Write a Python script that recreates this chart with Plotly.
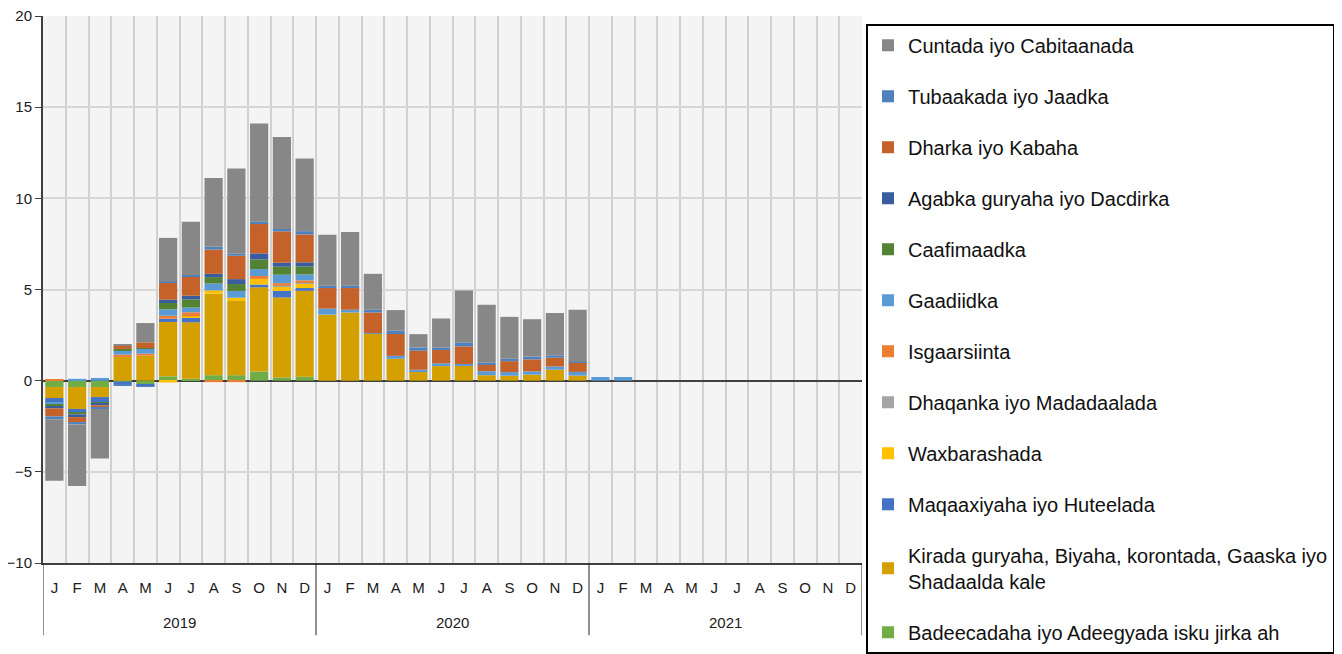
import plotly.graph_objects as go

months = ["J", "F", "M", "A", "M", "J", "J", "A", "S", "O", "N", "D"] * 3
years = ["2019"] * 12 + ["2020"] * 12 + ["2021"] * 12
x_idx = list(range(len(months)))

z12 = [0] * 12

badeecadaha = [-0.35, -0.35, -0.35, -0.05, -0.22, 0.24, 0.1, 0.3, 0.3, 0.5, 0.18, 0.22] + z12 + z12
kirada = [-0.6, -1.2, -0.55, 1.3, 1.37, 2.98, 3.1, 4.47, 4.07, 4.62, 4.38, 4.71,
          3.62, 3.74, 2.56, 1.2, 0.51, 0.8, 0.82, 0.3, 0.27, 0.33, 0.6, 0.28] + z12
maqaaxiyaha = [-0.27, -0.22, -0.27, -0.15, -0.09, 0.18, 0.24, 0, 0, 0.15, 0.37, 0.15] + z12 + z12
waxbarashada = [0, 0, 0, 0, 0, -0.1, 0.09, 0.18, 0.18, 0.31, 0.24, 0.24] + z12 + z12
dhaqanka = [0, 0, 0, 0, 0, 0, 0, 0, 0, 0, 0.05, 0.05] + z12 + z12
isgaarsiinta = [0.08, 0, 0, 0.13, 0.11, 0.16, 0.22, -0.08, -0.08, 0.16, 0.13, 0.13] + z12 + z12
gaadiidka = [-0.1, 0.1, 0.15, 0.24, 0.26, 0.35, 0.26, 0.38, 0.37, 0.38, 0.46, 0.33,
             0.33, 0.15, 0.05, 0.16, 0.09, 0.15, 0.09, 0.22, 0.2, 0.18, 0.18, 0.2,
             0.2, 0.2, 0, 0, 0, 0, 0, 0, 0, 0, 0, 0]
caafimaadka = [-0.1, -0.08, -0.09, 0.07, 0.05, 0.35, 0.45, 0.35, 0.38, 0.53, 0.44, 0.44] + z12 + z12
agabka = [-0.1, -0.15, -0.09, 0, 0, 0.18, 0.2, 0.18, 0.27, 0.33, 0.22, 0.22] + z12 + z12
dharka = [-0.44, -0.27, -0.13, 0.18, 0.31, 0.93, 1.04, 1.33, 1.28, 1.61, 1.72, 1.53,
          1.13, 1.19, 1.13, 1.2, 1.04, 0.73, 0.97, 0.37, 0.6, 0.66, 0.48, 0.49] + z12
tubaakada = [-0.15, -0.13, -0.07, -0.05, -0.03, 0.07, 0.09, 0.15, 0.11, 0.13, 0.13, 0.18,
             0.13, 0.13, 0.15, 0.18, 0.18, 0.13, 0.22, 0.09, 0.13, 0.15, 0.13, 0.07] + z12
cuntada = [-3.38, -3.38, -2.72, 0.05, 1.06, 2.39, 2.92, 3.78, 4.68, 5.39, 5.04, 3.98,
           2.79, 2.94, 1.97, 1.13, 0.73, 1.6, 2.85, 3.18, 2.3, 2.05, 2.32, 2.85] + z12

series = [
    ("Badeecadaha iyo Adeegyada isku jirka ah", badeecadaha, "#70AD47"),
    ("Kirada guryaha, Biyaha, korontada, Gaaska iyo<br>Shadaalda kale", kirada, "#D4A000"),
    ("Maqaaxiyaha iyo Huteelada", maqaaxiyaha, "#4472C4"),
    ("Waxbarashada", waxbarashada, "#FFC000"),
    ("Dhaqanka iyo Madadaalada", dhaqanka, "#A5A5A5"),
    ("Isgaarsiinta", isgaarsiinta, "#ED7D31"),
    ("Gaadiidka", gaadiidka, "#5B9BD5"),
    ("Caafimaadka", caafimaadka, "#548235"),
    ("Agabka guryaha iyo Dacdirka", agabka, "#3A5DA0"),
    ("Dharka iyo Kabaha", dharka, "#C4622A"),
    ("Tubaakada iyo Jaadka", tubaakada, "#4F81BD"),
    ("Cuntada iyo Cabitaanada", cuntada, "#878787"),
]

fig = go.Figure()
for i, (name, vals, col) in enumerate(series):
    fig.add_trace(go.Bar(x=x_idx, y=vals, name=name, legendgroup=name,
                         legendrank=1000 - i,
                         marker=dict(color=col, line=dict(width=0))))

font_main = "Liberation Sans, Arial, sans-serif"

# year labels and dividers
year_names = []
for y in years:
    if y not in year_names:
        year_names.append(y)
annotations = []
shapes = []
for yn in year_names:
    idxs = [i for i, y in enumerate(years) if y == yn]
    annotations.append(dict(x=sum(idxs) / len(idxs), y=-0.108, xref="x", yref="paper",
                            text=yn, showarrow=False, yanchor="middle",
                            font=dict(size=15, color="#202020", family=font_main)))
    shapes.append(dict(type="line", xref="x", yref="paper", x0=idxs[0] - 0.5, x1=idxs[0] - 0.5,
                       y0=0, y1=-0.132, line=dict(color="#202020", width=1)))
shapes.append(dict(type="line", xref="x", yref="paper", x0=x_idx[-1] + 0.5, x1=x_idx[-1] + 0.5,
                   y0=0, y1=-0.132, line=dict(color="#202020", width=1)))

fig.update_layout(
    width=1342, height=654,
    margin=dict(l=35, r=488, t=8, b=99, autoexpand=False),
    barmode="relative",
    bargap=0.2,
    plot_bgcolor="#F4F4F4",
    paper_bgcolor="white",
    font=dict(family=font_main, color="#202020"),
    showlegend=True,
    legend=dict(x=1.0049, y=0.986, xanchor="left", yanchor="top",
                traceorder="grouped", tracegroupgap=22,
                font=dict(size=20, family=font_main, color="#111111"),
                bordercolor="#000000", borderwidth=2, bgcolor="white",
                itemwidth=30, maxheight=760),
    annotations=annotations,
    shapes=shapes,
)
fig.update_xaxes(
    range=[-0.5, x_idx[-1] + 0.5],
    tickmode="array", tickvals=x_idx, ticktext=months,
    tickfont=dict(size=15, family=font_main, color="#202020"),
    ticks="", showgrid=False, ticklabelstandoff=10,
    showline=True, linecolor="#404040", linewidth=2,
    minor=dict(tickvals=[i + 0.5 for i in x_idx], showgrid=True,
               gridcolor="#D0D0D0", gridwidth=1.5, ticks=""),
    zeroline=False,
)
fig.update_yaxes(
    range=[-10, 20], dtick=5,
    tickfont=dict(size=15, family=font_main, color="#202020"),
    ticklabeloverflow="allow",
    showgrid=True, gridcolor="#D6D6D6", gridwidth=2,
    zeroline=True, zerolinecolor="#404040", zerolinewidth=2,
    showline=True, linecolor="#404040", linewidth=2,
    ticks="outside", ticklen=6, tickcolor="#404040",
)

fig.write_html("out.html")
